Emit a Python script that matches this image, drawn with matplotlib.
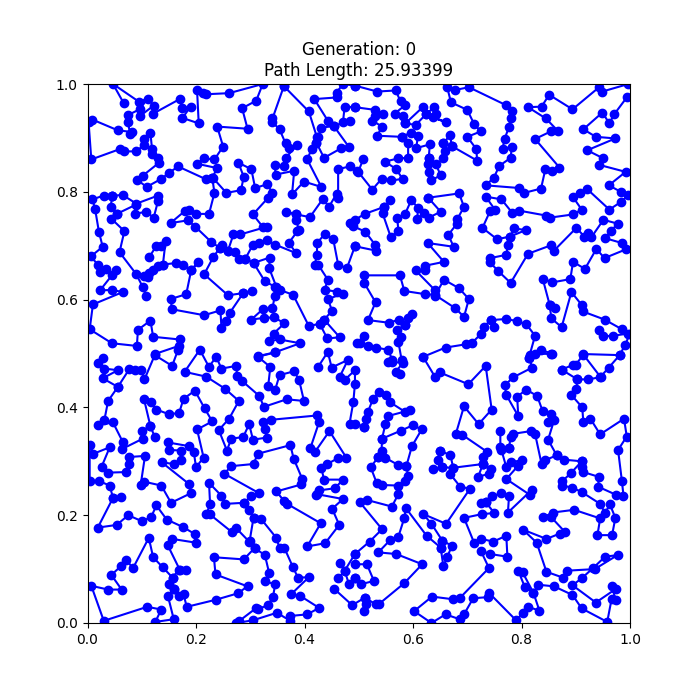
import matplotlib
matplotlib.use("Agg")
import matplotlib.pyplot as plt

generation = 0
path_length = 25.93399

# tour pieces, (x, y) in axis units
p1 = [(.067,.964),(.047,1.0),(.095,.967),(.111,.973),(.096,.953),(.074,.942),(.074,.930),(.079,.907),(.082,.911),(.056,.914),(.009,.934),(.002,.929),(.007,.860),(.059,.879),(.068,.875),(.090,.875),(.104,.887),(.104,.898),(.116,.909),(.119,.879),(.119,.871),(.130,.863),(.132,.854),(.102,.830),(.092,.822),(.109,.809),(.136,.824),(.150,.835),(.167,.847),(.219,.823),(.230,.826),(.239,.844),(.202,.852),(.215,.862),(.234,.860),(.250,.884),(.239,.921),(.295,.917),(.285,.955),(.311,.969),(.323,1.0),(.261,.983),(.219,.981),(.213,.984),(.202,.988),(.205,.927),(.175,.937),(.190,.958),(.175,.955),(.170,.972),(.121,.945),(.122,.960),(.096,.940)]
p2 = [(.230,.826),(.234,.798),(.224,.759),(.200,.759),(.188,.766),(.179,.764),(.153,.742),(.185,.747),(.199,.735),(.228,.707),(.244,.696),(.248,.701),(.259,.691),(.271,.688),(.279,.676),(.291,.676),(.306,.668),(.327,.634),(.345,.624),(.354,.618),(.379,.609),(.408,.551),(.428,.555),(.436,.563),(.465,.530),(.442,.528),(.428,.555)]
p3 = [(.231,.826),(.256,.798),(.283,.803),(.288,.828),(.278,.854),(.302,.842),(.309,.807),(.331,.814),(.341,.798),(.333,.789),(.305,.758),(.323,.735),(.330,.735),(.282,.721),(.269,.721),(.259,.691)]
p4 = [(.291,.676),(.305,.702),(.317,.705),(.331,.710),(.346,.702),(.385,.686),(.371,.705),(.387,.727),(.389,.730),(.385,.748),(.385,.758),(.365,.763),(.385,.758),(.410,.753),(.434,.787),(.445,.772),(.459,.796),(.462,.789),(.462,.842),(.483,.847),(.496,.839)]
p5 = [(.306,.668),(.336,.678),(.335,.658),(.348,.624),(.345,.606),(.341,.584),(.323,.582),(.302,.563),(.325,.566),(.344,.567),(.363,.556),(.343,.537),(.335,.523),(.354,.526),(.392,.519),(.345,.502),(.314,.495)]
p6 = [(.045,.793),(.030,.793),(.009,.786),(.014,.768),(.021,.726),(.028,.698),(.006,.680),(.019,.665),(.023,.652),(.034,.657),(.045,.645),(.052,.654),(.023,.617),(.045,.618),(.065,.614),(.010,.591),(.004,.545),(.045,.519),(.091,.514),(.093,.544),(.116,.561),(.121,.531),(.170,.526),(.168,.514),(.124,.499)]
p7 = [(.045,.793),(.065,.794),(.090,.778),(.130,.793),(.130,.783),(.122,.752),(.108,.763),(.087,.759),(.089,.776),(.054,.759),(.044,.750),(.068,.727),(.059,.688),(.090,.647),(.102,.623),(.108,.607)]
p7b = [(.045,.793),(.043,.771),(.054,.759)]
p8 = [(.114,.679),(.127,.700),(.136,.700),(.144,.709),(.139,.665),(.130,.662),(.114,.649),(.105,.643),(.111,.642),(.121,.655),(.139,.665),(.164,.668),(.176,.665),(.191,.654),(.204,.670),(.191,.654),(.182,.610),(.153,.601),(.156,.582),(.215,.571),(.245,.580),(.247,.547),(.255,.561),(.262,.575),(.287,.612),(.303,.616),(.287,.612),(.259,.608),(.215,.647),(.232,.679),(.244,.696)]
p9 = [(.362,.996),(.341,.936),(.341,.929),(.354,.916),(.365,.890),(.371,.882),(.387,.887),(.365,.863),(.362,.847),(.345,.849),(.347,.832),(.381,.839),(.377,.795),(.399,.819),(.431,.809),(.405,.860),(.413,.879),(.422,.891),(.425,.901),(.431,.919),(.454,.922),(.443,.932),(.418,.972),(.459,.975),(.459,.984),(.471,1.0),(.493,.997)]
p10 = [(.362,.996),(.408,.949),(.423,.901)]
p11 = [(.493,.957),(.474,.958),(.471,.930),(.483,.932),(.454,.922),(.482,.883),(.468,.881),(.436,.863),(.422,.891)]
p12 = [(.493,.699),(.478,.658),(.462,.665),(.453,.712),(.437,.721),(.423,.705),(.423,.683),(.419,.665),(.425,.665),(.443,.637),(.437,.618),(.459,.615),(.471,.611),(.443,.601),(.451,.579),(.436,.563)]

q1 = [(.493,.997),(.534,.986),(.568,.988),(.577,.968),(.586,.961),(.566,.945),(.581,.941),(.586,.927),(.619,.958),(.624,.944),(.639,.957),(.642,.944),(.636,.938),(.661,.929),(.624,.944),(.605,.924),(.586,.927)]
q2 = [(.493,.957),(.530,.952),(.545,.944),(.530,.941),(.525,.932),(.543,.921),(.534,.904),(.579,.902),(.591,.891),(.591,.863),(.573,.862),(.548,.856),(.568,.843),(.581,.824),(.560,.821),(.542,.824),(.525,.804),(.499,.837),(.508,.860)]
q3 = [(.579,.902),(.597,.910),(.609,.904),(.606,.881),(.631,.888),(.629,.863),(.627,.852),(.630,.837),(.634,.821),(.651,.831),(.642,.851),(.629,.863)]
q4 = [(.656,.891),(.669,.905),(.671,.885),(.656,.863),(.659,.876),(.656,.891),(.671,.885),(.718,.858),(.717,.879),(.700,.902),(.725,.912),(.713,.925),(.700,.952),(.670,.966),(.663,.994),(.678,.989),(.703,.994),(.771,.961),(.783,.950),(.780,.936),(.777,.921),(.769,.898),(.765,.880),(.782,.883),(.780,.863),(.759,.848),(.749,.826),(.734,.812),(.796,.807),(.805,.798),(.836,.806),(.844,.842),(.857,.839),(.870,.845),(.825,.898),(.854,.912),(.868,.912),(.845,.936),(.812,.957),(.837,.958),(.851,.980),(.894,.953),(.943,.994),(.949,.986),(.997,1.0)]
q5 = [(.994,.975),(.971,.944),(.962,.927),(.949,.947),(.914,.916),(.937,.902),(.973,.899),(.921,.877),(.951,.862),(.943,.850),(.992,.837),(.961,.812),(.983,.800),(.997,.794),(.983,.781),(.962,.767),(.920,.806),(.908,.797),(.895,.790),(.911,.767),(.895,.758),(.852,.752),(.845,.756),(.796,.765),(.783,.761),(.763,.786),(.734,.791),(.751,.767),(.742,.764),(.728,.733),(.755,.712),(.779,.717),(.787,.732),(.808,.729),(.779,.717),(.775,.702),(.772,.683),(.742,.677),(.742,.669),(.757,.653),(.780,.631),(.812,.685),(.855,.701),(.860,.691),(.901,.733),(.916,.717),(.923,.724),(.929,.716),(.951,.748),(.977,.741),(.965,.727),(.954,.714),(.985,.705),(.992,.693),(.953,.677),(.938,.694),(.917,.657),(.895,.670),(.890,.638),(.857,.632),(.839,.639),(.852,.590),(.855,.565),(.874,.549),(.892,.614),(.911,.590),(.913,.578),(.953,.563),(.985,.545),(.997,.537),(.969,.533),(.951,.532),(.943,.544)]
q5b = [(.852,.590),(.862,.584)]
q6 = [(.628,.789),(.685,.797),(.694,.772),(.682,.750),(.681,.741),(.665,.720),(.675,.698),(.627,.705),(.657,.670),(.623,.663),(.623,.654),(.605,.654),(.640,.618),(.640,.606),(.657,.637),(.685,.621),(.703,.601),(.694,.568),(.678,.584),(.640,.609),(.623,.610),(.584,.616),(.576,.645),(.510,.645),(.510,.631),(.531,.595),(.517,.562),(.556,.557),(.574,.563),(.585,.553),(.591,.565),(.598,.573)]
q6b = [(.585,.553),(.571,.544),(.577,.531),(.573,.522),(.579,.488)]
q7 = [(.628,.789),(.651,.763),(.629,.752),(.620,.760),(.608,.750),(.609,.770),(.597,.785),(.585,.758),(.571,.752),(.573,.727),(.559,.716),(.544,.760),(.547,.772),(.558,.784)]
q7b = [(.547,.772),(.511,.759),(.493,.748),(.483,.743),(.490,.736),(.512,.726),(.530,.702),(.531,.691),(.493,.699)]
q8 = [(.496,.519),(.510,.532),(.502,.519),(.517,.514),(.531,.511),(.554,.507),(.562,.488),(.554,.485),(.562,.485),(.581,.482),(.568,.466),(.576,.462)]
q9 = [(.619,.494),(.660,.511),(.697,.517),(.708,.519),(.726,.537),(.731,.550),(.743,.562),(.750,.550),(.743,.562),(.772,.564),(.792,.560),(.809,.554),(.825,.533),(.815,.497),(.836,.506),(.857,.500)]
q10 = [(.914,.499),(.981,.497),(.991,.516),(1.0,.537)]

r1 = [(.028,.491),(.019,.482),(.031,.472),(.056,.469),(.028,.454),(.056,.438),(.038,.412),(.031,.376),(.019,.367),(.047,.372),(.065,.336),(.064,.323),(.102,.342),(.100,.357),(.116,.365),(.124,.345)]
r1b = [(.056,.438),(.077,.471),(.087,.469),(.099,.469),(.105,.452),(.124,.497),(.156,.477),(.167,.507)]
r2 = [(.116,.365),(.104,.416),(.117,.410),(.127,.396),(.151,.387),(.169,.390),(.177,.416),(.198,.431),(.216,.398),(.230,.374),(.202,.359),(.214,.307),(.200,.289),(.196,.317),(.188,.328),(.148,.335),(.151,.321),(.172,.320),(.173,.303),(.159,.295),(.137,.298),(.187,.258),(.191,.241),(.154,.223),(.136,.255),(.105,.262),(.098,.256),(.106,.310),(.077,.308),(.077,.295),(.071,.280),(.038,.279),(.026,.290),(.041,.326),(.011,.314),(.004,.330),(.004,.264),(.022,.263),(.041,.255),(.047,.232),(.019,.177),(.054,.182),(.075,.200),(.100,.189),(.117,.196),(.127,.218),(.146,.192),(.176,.178),(.198,.165),(.200,.149),(.156,.156),(.148,.144),(.170,.099),(.182,.098)]
r2b = [(.047,.232),(.062,.233)]
r3 = [(.168,.099),(.157,.084),(.151,.072),(.160,.064),(.148,.051),(.159,.007),(.125,.002),(.136,.025),(.110,.030),(.030,.004),(.007,.069),(.038,.062),(.063,.062),(.044,.089),(.062,.106),(.071,.117),(.084,.102),(.113,.158),(.121,.122),(.139,.103),(.157,.084)]
r4 = [(.160,.064),(.168,.050),(.177,.053),(.183,.030),(.236,.043),(.277,.055),(.295,.068),(.236,.090),(.233,.122),(.288,.118),(.308,.139),(.298,.151),(.273,.177),(.267,.168),(.225,.202),(.219,.202),(.226,.220),(.224,.260),(.247,.236),(.254,.221),(.288,.223),(.298,.210),(.306,.195),(.299,.153)]
r5 = [(.288,.223),(.302,.236),(.316,.241),(.252,.277),(.265,.291),(.306,.295),(.314,.314),(.374,.330),(.380,.305),(.396,.267),(.394,.257),(.348,.244),(.362,.227),(.368,.221),(.430,.185),(.405,.142),(.438,.148),(.464,.182),(.451,.212),(.471,.230),(.423,.239),(.421,.238),(.427,.246),(.456,.250),(.471,.266),(.436,.266),(.431,.288),(.442,.295),(.462,.306),(.477,.307),(.446,.356),(.419,.317),(.411,.325),(.427,.373),(.423,.385),(.338,.377),(.323,.373),(.328,.359),(.330,.344),(.305,.340),(.298,.369),(.287,.345),(.265,.342),(.257,.320),(.242,.358),(.261,.379),(.279,.412),(.253,.435),(.219,.457),(.179,.466),(.207,.507),(.224,.475),(.237,.494),(.247,.472),(.274,.477),(.276,.458),(.285,.449),(.317,.421),(.325,.401),(.367,.415),(.399,.412),(.390,.451),(.381,.467),(.354,.460),(.346,.433),(.333,.439),(.337,.475),(.314,.494),(.346,.502)]
r6 = [(.306,.195),(.320,.193),(.348,.158),(.354,.139),(.363,.139),(.379,.103),(.388,.084),(.408,.085),(.375,.053),(.391,.051),(.427,.028),(.405,.016),(.373,.013),(.374,.004),(.349,.019),(.305,.005),(.274,.0)]
r7 = [(.308,.139),(.327,.126),(.335,.092),(.328,.077),(.346,.072),(.342,.049),(.333,.033),(.314,.026),(.310,.027),(.280,.004)]
r8 = [(.425,.475),(.443,.503),(.450,.474),(.480,.488),(.465,.457),(.474,.451),(.493,.469),(.493,.444),(.490,.410),(.483,.370),(.493,.370),(.510,.364)]
r9 = [(.454,.064),(.488,.033),(.511,.047)]
r10 = [(.462,.083),(.474,.097),(.493,.128)]
r11 = [(.465,.111),(.474,.097),(.482,.072),(.493,.084)]

s1 = [(.619,.493),(.641,.456),(.649,.465),(.702,.443),(.734,.477),(.745,.396),(.721,.369),(.694,.402),(.679,.351),(.691,.349),(.736,.318),(.729,.308),(.729,.295),(.674,.288),(.668,.277),(.687,.253),(.705,.249),(.661,.184),(.619,.202),(.634,.184),(.654,.153),(.651,.140),(.625,.162),(.587,.213),(.584,.195),(.573,.160),(.558,.154),(.536,.131),(.569,.128),(.617,.109),(.584,.074),(.537,.035),(.531,.035),(.511,.047),(.513,.035),(.510,.022)]
s2 = [(.510,.364),(.513,.379),(.517,.392),(.526,.415),(.537,.429),(.551,.423),(.557,.410),(.585,.392),(.595,.395),(.554,.384),(.549,.369),(.543,.342),(.542,.320),(.536,.308),(.548,.307),(.573,.293),(.588,.292),(.591,.272),(.573,.255),(.543,.256),(.533,.260),(.522,.289),(.536,.308)]
s3 = [(.588,.292),(.598,.328),(.616,.359),(.600,.367),(.578,.357),(.543,.342)]
s4 = [(.585,.264),(.573,.239),(.561,.216),(.516,.228),(.502,.224),(.543,.174),(.520,.151),(.493,.128)]
s5 = [(.493,.109),(.515,.109),(.528,.078),(.504,.072),(.493,.084)]
s6 = [(.649,.319),(.669,.312),(.674,.288),(.654,.289),(.646,.302),(.649,.319)]
s6b = [(.637,.286),(.654,.289)]
s7 = [(.654,.153),(.672,.143),(.663,.123),(.656,.105),(.651,.140)]
s8 = [(.729,.295),(.743,.286),(.740,.277),(.720,.271),(.729,.295)]
s9 = [(.734,.224),(.725,.222),(.746,.235),(.763,.241),(.777,.236),(.775,.205),(.819,.247),(.815,.238),(.772,.267),(.794,.292),(.800,.302),(.780,.298),(.772,.289),(.763,.321),(.777,.325),(.780,.345),(.785,.351),(.817,.356),(.825,.351),(.837,.295),(.843,.302),(.865,.311),(.879,.303),(.911,.300),(.911,.289),(.914,.280),(.943,.271),(.941,.253),(.974,.238),(.988,.236),(.985,.264),(.978,.321),(.994,.346),(.989,.379),(.945,.350),(.927,.379),(.914,.372),(.912,.400),(.892,.423),(.901,.435),(.903,.452),(.923,.452),(.945,.456),(.961,.474),(.981,.497)]
s10 = [(.761,.356),(.761,.326),(.777,.325)]
s11 = [(.734,.224),(.750,.204),(.727,.202),(.694,.195),(.713,.148),(.726,.156),(.748,.151),(.772,.162),(.774,.123),(.742,.128),(.725,.134),(.740,.102),(.686,.046),(.674,.044),(.635,.049),(.602,.022),(.634,.0),(.660,.016),(.686,.007),(.694,.016),(.711,.046),(.739,.048),(.740,.056),(.790,.005),(.802,.018),(.812,.030),(.833,.023),(.822,.056),(.806,.067),(.794,.097),(.802,.094),(.822,.056),(.831,.071),(.860,.068),(.894,.052),(.911,.027),(.958,.002),(.966,.044),(.974,.042),(.966,.069),(.975,.064),(.937,.038),(.894,.070),(.911,.083),(.932,.102),(.954,.123),(.977,.126),(.935,.100),(.883,.097),(.877,.084),(.846,.095),(.828,.149),(.803,.173),(.846,.156),(.871,.166),(.880,.169),(.855,.196),(.840,.196),(.858,.205),(.897,.210),(.945,.194),(.940,.163),(.967,.163),(.973,.195),(.963,.220),(.954,.204),(.945,.221),(.911,.243),(.894,.251),(.875,.255),(.875,.263),(.892,.279),(.911,.300)]
s12 = [(.814,.491),(.820,.474),(.785,.456),(.769,.441),(.772,.423),(.794,.384),(.792,.420),(.809,.433),(.829,.421),(.839,.393),(.854,.387),(.848,.373),(.860,.376),(.849,.340),(.865,.311)]
s13 = [(.874,.470),(.895,.479),(.900,.479),(.914,.498),(.946,.456)]
s14 = [(.874,.470),(.903,.452)]
s15 = [(.814,.491),(.825,.500),(.855,.499)]

tour_pieces = [p1, p2, p3, p4, p5, p6, p7, p7b, p8, p9, p10, p11, p12,
               q1, q2, q3, q4, q5, q5b, q6, q6b, q7, q7b, q8, q9, q10,
               r1, r1b, r2, r2b, r3, r4, r5, r6, r7, r8, r9, r10, r11,
               s1, s2, s3, s4, s5, s6, s6b, s7, s8, s9, s10, s11, s12, s13, s14, s15]

fig, ax = plt.subplots(figsize=(7, 7), dpi=100)
for piece in tour_pieces:
    xs = [pt[0] for pt in piece]
    ys = [pt[1] for pt in piece]
    ax.plot(xs, ys, "bo-")

ax.set_xlim(0, 1)
ax.set_ylim(0, 1)
ax.set_title(f"Generation: {generation}\nPath Length: {path_length:.5f}")
fig.savefig("out.png")
